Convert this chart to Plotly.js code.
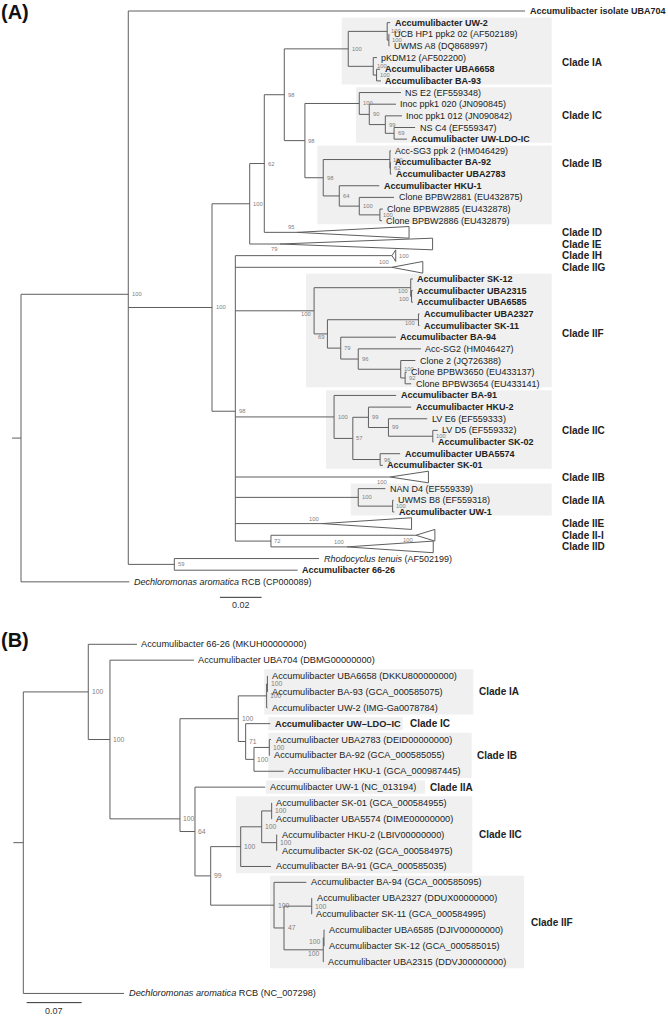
<!DOCTYPE html>
<html><head><meta charset="utf-8">
<script src="https://cdn.plot.ly/plotly-3.0.1.min.js"></script>
<style>html,body{margin:0;padding:0;background:#fff}#chart{width:668px;height:1016px}</style>
</head><body><div id="chart"></div>
<script>
// ================= DATA =================
// Panel A: ppk1-based tree (Newick, branch lengths in substitutions/site, bootstrap as node labels)
const treeA = `(('Accumulibacter isolate UBA704':0.1905,
 (((((('Accumulibacter UW-2':0.0014,('UCB HP1 ppk2 02 (AF502189)':0.0002,'UWMS A8 (DQ868997)':0.0002)100:0.0008)100:0.0187,
      ('pKDM12 (AF502200)':0.0018,('Accumulibacter UBA6658':0.0017,'Accumulibacter BA-93':0.0021)100:0.0016)100:0.0120)100:0.0307,
     (('NS E2 (EF559348)':0.0200,('Inoc ppk1 020 (JN090845)':0.0128,('Inoc ppk1 012 (JN090842)':0.0080,('NS C4 (EF559347)':0.0101,'Accumulibacter UW-LDO-IC':0.0062)69:0.0042)99:0.0077)90:0.0048)100:0.0261,
      (('Acc-SG3 ppk 2 (HM046429)':0.0005,('Accumulibacter BA-92':0.0002,'Accumulibacter UBA2783':0.0005)62:0.0002)100:0.0320,
       ('Accumulibacter HKU-1':0.0192,('Clone BPBW2881 (EU432875)':0.0167,('Clone BPBW2885 (EU432878)':0.0014,'Clone BPBW2886 (EU432879)':0.0010)100:0.0099)100:0.0096)64:0.0077)98:0.0088)98:0.0099)98:0.0096,
    'Clade ID':0.0157)62:0.0070,
   'Clade IE':0.0145)100:0.0181,
  ('Clade IH':0.0752,'Clade IIG':0.0751,
   (('Accumulibacter SK-12':0.0010,('Accumulibacter UBA2315':0.0006,'Accumulibacter UBA6585':0.0006)100:0.0004)100:0.0464,
    (('Accumulibacter UBA2327':0.0005,'Accumulibacter SK-11':0.0005)100:0.0437,
     ('Accumulibacter BA-94':0.0265,('Acc-SG2 (HM046427)':0.0301,('Clone 2 (JQ726388)':0.0070,('Clone BPBW3650 (EU433137)':0.0008,'Clone BPBW3654 (EU433141)':0.0029)92:0.0021)100:0.0204)96:0.0084)79:0.0064)69:0.0064)100:0.0378,
   ('Accumulibacter BA-91':0.0298,(('Accumulibacter HKU-2':0.0205,('LV E6 (EF559333)':0.0186,('LV D5 (EF559332)':0.0024,'Accumulibacter SK-02':0.0003)100:0.0213)99:0.0096)99:0.0075,('Accumulibacter UBA5574':0.0096,'Accumulibacter SK-01':0.0013)96:0.0131)57:0.0090)100:0.0474,
   'Clade IIB':0.0743,
   ('NAN D4 (EF559339)':0.0130,('UWMS B8 (EF559318)':0.0005,'Accumulibacter UW-1':0.0008)100:0.0165)100:0.0590,
   'Clade IIE':0.0416,
   ('Clade II-I':0.0696,'Clade IID':0.0365)72:0.0171)98:0.0112)100:0.0402,
 ('Rhodocyclus tenuis (AF502199)':0.0695,'Accumulibacter 66-26':0.0592)59:0.0221)100:0.0515,
'Dechloromonas aromatica RCB (CP000089)':0.0520)`;

const collapsedNamesA   = ['Clade ID','Clade IE','Clade IH','Clade IIG','Clade IIB','Clade IIE','Clade II-I','Clade IID'];
const collapsedDepthA   = [0.0538, 0.0733, 0.0018, 0.0149, 0.0184, 0.0430, 0.0091, 0.0414];
const collapsedSupportA = ['95','79','100','100','100','100','100','100'];

const cladeNamesA = ['Clade IA','Clade IC','Clade IB','Clade IIF','Clade IIC','Clade IIA'];
const cladeFirstA = ['Accumulibacter UW-2','NS E2 (EF559348)','Acc-SG3 ppk 2 (HM046429)','Accumulibacter SK-12','Accumulibacter BA-91','NAN D4 (EF559339)'];
const cladeLastA  = ['Accumulibacter BA-93','Accumulibacter UW-LDO-IC','Clone BPBW2886 (EU432879)','Clone BPBW3654 (EU433141)','Accumulibacter SK-01','Accumulibacter UW-1'];

const boldA = ['Accumulibacter isolate UBA704','Accumulibacter UW-2','Accumulibacter UBA6658','Accumulibacter BA-93',
  'Accumulibacter UW-LDO-IC','Accumulibacter BA-92','Accumulibacter UBA2783','Accumulibacter HKU-1',
  'Accumulibacter SK-12','Accumulibacter UBA2315','Accumulibacter UBA6585','Accumulibacter UBA2327','Accumulibacter SK-11',
  'Accumulibacter BA-94','Accumulibacter BA-91','Accumulibacter HKU-2','Accumulibacter SK-02','Accumulibacter UBA5574',
  'Accumulibacter SK-01','Accumulibacter UW-1','Accumulibacter 66-26'];
const scaleA = 0.02;

// Panel B: genome-based tree
const treeB = `(('Accumulibacter 66-26 (MKUH00000000)':0.0620,
  ('Accumulibacter UBA704 (DBMG00000000)':0.1069,
   (((('Accumulibacter UBA6658 (DKKU800000000)':0.0003,'Accumulibacter BA-93 (GCA_000585075)':0.0002)100:0.0010,'Accumulibacter UW-2 (IMG-Ga0078784)':0.0010)100:0.0361,
     ('Accumulibacter UW–LDO–IC':0.0313,(('Accumulibacter UBA2783 (DEID00000000)':0.0022,'Accumulibacter BA-92 (GCA_000585055)':0.0005)100:0.0195,'Accumulibacter HKU-1 (GCA_000987445)':0.0378)100:0.0106)71:0.0094)100:0.0742,
    ('Accumulibacter UW-1 (NC_013194)':0.0895,
     (((('Accumulibacter SK-01 (GCA_000584955)':0.0004,'Accumulibacter UBA5574 (DIME00000000)':0.0004)100:0.0127,('Accumulibacter HKU-2 (LBIV00000000)':0.0004,'Accumulibacter SK-02 (GCA_000584975)':0.0004)100:0.0191)100:0.0267,'Accumulibacter BA-91 (GCA_000585035)':0.0386)100:0.0382,
      ('Accumulibacter BA-94 (GCA_000585095)':0.0411,(('Accumulibacter UBA2327 (DDUX00000000)':0.0004,'Accumulibacter SK-11 (GCA_000584995)':0.0003)100:0.0353,(('Accumulibacter UBA6585 (DJIV00000000)':0.0006,'Accumulibacter SK-12 (GCA_000585015)':0.0004)100:0.0009,'Accumulibacter UBA2315 (DDVJ00000000)':0.0009)100:0.0500)47:0.0127)100:0.0806)99:0.0200)64:0.0191)100:0.0891)100:0.0276)100:0.0827,
 'Dechloromonas aromatica RCB (NC_007298)':0.1282)`;

const cladeNamesB = ['Clade IA','Clade IC','Clade IB','Clade IIA','Clade IIC','Clade IIF'];
const cladeFirstB = ['Accumulibacter UBA6658 (DKKU800000000)','Accumulibacter UW–LDO–IC','Accumulibacter UBA2783 (DEID00000000)','Accumulibacter UW-1 (NC_013194)','Accumulibacter SK-01 (GCA_000584955)','Accumulibacter BA-94 (GCA_000585095)'];
const cladeLastB  = ['Accumulibacter UW-2 (IMG-Ga0078784)','Accumulibacter UW–LDO–IC','Accumulibacter HKU-1 (GCA_000987445)','Accumulibacter UW-1 (NC_013194)','Accumulibacter BA-91 (GCA_000585035)','Accumulibacter UBA2315 (DDVJ00000000)'];
const boldB = ['Accumulibacter UW–LDO–IC'];
const scaleB = 0.07;

const italicTaxa = ['Rhodocyclus tenuis','Dechloromonas aromatica'];

// ================= LAYOUT SETTINGS (pixels / styles) =================
const W = 668, H = 1016;
const FONT = 'Liberation Sans, Arial, Helvetica, sans-serif';
const LINE = '#5e5e5e';
const geoA = {rootPx:21, perUnit:2083, row0:11, rowH:11.65, top:0, bottom:616, stub:0.0043,
  leafFont:9, supFont:5.8, cladeFont:10, halfTri:0.5,
  boxPx:[[341.7,551.7],[356,551.7],[317.3,551.7],[306,551.7],[326,551.7],[350.7,551.7]],
  boxPadTop:0.45, boxPadBot:0.3, labelPx:[559.5,559.5,559.5,559.5,559.5,559.5],
  labelShift:[0.95,0,-1.9,0.2,0,0],
  supLeft:['Accumulibacter SK-12','Accumulibacter UBA2315','Accumulibacter UBA2327'],
  leafMid:[],
  scaleX0:0.0955, scaleRow:50.33, scaleTextRow:51.0};
const geoB = {rootPx:23.3, perUnit:785.7, row0:644.3, rowH:15.87, top:616, bottom:1016, stub:0.0127,
  leafFont:9.2, supFont:6.8, cladeFont:10,
  boxPx:[[264.3,473.3],[268.3,402.7],[268.3,471.7],[266,425],[236,472.3],[270,524]],
  boxPadTop:0.42, boxPadBot:0.42, labelPx:[476.7,408.3,475,428.3,477.3,529],
  labelShift:[0,0,0,0,0,0],
  supLeft:['Accumulibacter UBA6585 (DJIV00000000)'],
  leafMid:['Accumulibacter UBA6658 (DKKU800000000)|Accumulibacter UBA2315 (DDVJ00000000)'],
  scaleX0:0.0043, scaleRow:22.58, scaleTextRow:23.1};
const supBelowA = ['Clade IE','Clade IIB','Clade II-I'];
const supRightA = ['Clade IH'];

// ================= HELPERS =================
function parseNewick(str){
  const s = str.replace(/\s*\n\s*/g,'');
  let i = 0;
  const take = re => { let t=''; while(i<s.length && re.test(s[i])) t+=s[i++]; return t; };
  function node(){
    const n = {children:[], name:'', support:'', len:0};
    if (s[i]==='('){
      i++; n.children.push(node());
      while (s[i]===','){ i++; n.children.push(node()); }
      i++; n.support = take(/[0-9.]/);
    } else if (s[i]==="'"){
      i++; while(s[i]!=="'") n.name+=s[i++]; i++;
    }
    if (s[i]===':'){ i++; n.len = parseFloat(take(/[0-9.eE+-]/)); }
    return n;
  }
  return node();
}
function placeTree(root, gaps, leafMid){
  let row = 0; const leaves=[], inner=[];
  (function rec(n,x){
    n.x = x;
    if(!n.children.length){ row += (gaps[n.name]||0); n.y = row++; n.first=n; n.last=n; leaves.push(n); }
    else {
      n.children.forEach(c=>rec(c, x + c.len));
      n.first = n.children[0].first; n.last = n.children[n.children.length-1].last;
      n.y = n.children.reduce((a,c)=>a+c.y,0)/n.children.length;
      if (leafMid.includes(n.first.name+'|'+n.last.name)) n.y = (n.first.y + n.last.y)/2;
      inner.push(n);
    }
  })(root,0);
  return {root, leaves, inner};
}
function fmt(name, boldList){
  let t = name;
  italicTaxa.forEach(it => { t = t.replace(it, '<i>'+it+'</i>'); });
  return boldList.includes(name) ? '<b>'+t+'</b>' : t;
}

const traces = [], annotations = [], shapes = [];

function buildPanel(cfg){
  const g = cfg.geo, xa = cfg.xa, ya = cfg.ya;
  const t = placeTree(parseNewick(cfg.newick), cfg.gaps || {}, g.leafMid);
  const X=[], Y=[];
  const seg=(x0,y0,x1,y1)=>{X.push(x0,x1,null);Y.push(y0,y1,null);};
  seg(-g.stub, t.root.y, 0, t.root.y);
  t.inner.forEach(n=>{
    const f=n.children[0], l=n.children[n.children.length-1];
    seg(n.x,f.y,n.x,l.y);
    n.children.forEach(c=>seg(n.x,c.y,c.x,c.y));
    if(n.support){
      const left = g.supLeft.includes(n.first.name);
      annotations.push({xref:xa, yref:ya, x:n.x, y:n.y + (left?0.25:0), xanchor:left?'right':'left', yanchor:'middle', xshift:left?-1:1.5,
        text:n.support, showarrow:false, font:{size:g.supFont, color:'#808080', family:FONT}});
    }
  });
  const byName = {}; t.leaves.forEach(l=>byName[l.name]=l);
  const collNames = cfg.collapsedNames || [];
  t.leaves.forEach(l=>{
    const k = collNames.indexOf(l.name);
    if(k>=0){
      const d = cfg.collapsedDepth[k], h = g.halfTri;
      X.push(l.x, l.x+d, l.x+d, l.x, null); Y.push(l.y, l.y-h, l.y+h, l.y, null);
      const sup = cfg.collapsedSupport[k];
      let a = {xref:xa, yref:ya, x:l.x, y:l.y-0.42, xanchor:'right', yanchor:'middle', xshift:-1,
        text:sup, showarrow:false, font:{size:g.supFont, color:'#808080', family:FONT}};
      if (supBelowA.includes(l.name)) a.y = l.y+0.42;
      if (supRightA.includes(l.name)) { a.x = l.x+d; a.y = l.y; a.xanchor='left'; a.xshift=1; }
      annotations.push(a);
      annotations.push({xref:'paper', yref:ya, x:g.labelPx[0]/W, y:l.y, xanchor:'left', yanchor:'middle',
        text:'<b>'+l.name+'</b>', showarrow:false, font:{size:g.cladeFont, color:'#222', family:FONT}});
    } else {
      annotations.push({xref:xa, yref:ya, x:l.x, y:l.y, xanchor:'left', yanchor:'middle', xshift:2.5,
        text:fmt(l.name, cfg.bold), showarrow:false, font:{size:g.leafFont, color:'#222', family:FONT}});
    }
  });
  traces.push({type:'scatter', mode:'lines', x:X, y:Y, xaxis:xa, yaxis:ya, hoverinfo:'skip',
    line:{color:LINE, width:1}, connectgaps:false, showlegend:false});
  cfg.cladeNames.forEach((nm,k)=>{
    const a = byName[cfg.cladeFirst[k]].y, b = byName[cfg.cladeLast[k]].y;
    shapes.push({type:'rect', xref:'paper', yref:ya, x0:g.boxPx[k][0]/W, x1:g.boxPx[k][1]/W,
      y0:a-g.boxPadTop, y1:b+g.boxPadBot, fillcolor:'#eff0ef', line:{width:0}, layer:'below'});
    annotations.push({xref:'paper', yref:ya, x:g.labelPx[k]/W, y:(a+b)/2 + g.labelShift[k], xanchor:'left', yanchor:'middle',
      text:'<b>'+nm+'</b>', showarrow:false, font:{size:g.cladeFont, color:'#222', family:FONT}});
  });
  traces.push({type:'scatter', mode:'lines', x:[g.scaleX0, g.scaleX0+cfg.scale], y:[g.scaleRow,g.scaleRow],
    xaxis:xa, yaxis:ya, hoverinfo:'skip', line:{color:'#333', width:1}, showlegend:false});
  annotations.push({xref:xa, yref:ya, x:g.scaleX0+cfg.scale/2, y:g.scaleTextRow, xanchor:'center', yanchor:'middle',
    text:String(cfg.scale), showarrow:false, font:{size:9, color:'#333', family:FONT}});
}

buildPanel({newick:treeA, geo:geoA, xa:'x', ya:'y', collapsedNames:collapsedNamesA, collapsedDepth:collapsedDepthA,
  collapsedSupport:collapsedSupportA, cladeNames:cladeNamesA, cladeFirst:cladeFirstA, cladeLast:cladeLastA, bold:boldA, scale:scaleA});
buildPanel({newick:treeB, geo:geoB, xa:'x2', ya:'y2', gaps:{'Dechloromonas aromatica RCB (NC_007298)':1},
  cladeNames:cladeNamesB, cladeFirst:cladeFirstB, cladeLast:cladeLastB, bold:boldB, scale:scaleB});

annotations.push({xref:'paper', yref:'paper', x:0, y:1-12.5/H, xanchor:'left', yanchor:'middle', xshift:-1,
  text:'<b>(A)</b>', showarrow:false, font:{size:20, color:'#111', family:FONT}});
annotations.push({xref:'paper', yref:'paper', x:0, y:1-639.5/H, xanchor:'left', yanchor:'middle', xshift:-1,
  text:'<b>(B)</b>', showarrow:false, font:{size:20, color:'#111', family:FONT}});

function xr(g){ return [-g.rootPx/g.perUnit, (W-g.rootPx)/g.perUnit]; }
function yr(g){ return [(g.bottom-g.row0)/g.rowH, (g.top-g.row0)/g.rowH]; }
const ax = {visible:false, fixedrange:true, showgrid:false, zeroline:false};
const layout = {
  width:W, height:H, margin:{l:0,r:0,t:0,b:0}, paper_bgcolor:'#fff', plot_bgcolor:'rgba(0,0,0,0)',
  font:{family:FONT, color:'#222'}, showlegend:false, hovermode:false,
  xaxis:Object.assign({}, ax, {domain:[0,1], range:xr(geoA), anchor:'y'}),
  yaxis:Object.assign({}, ax, {domain:[1-geoA.bottom/H, 1], range:yr(geoA), anchor:'x'}),
  xaxis2:Object.assign({}, ax, {domain:[0,1], range:xr(geoB), anchor:'y2'}),
  yaxis2:Object.assign({}, ax, {domain:[0, 1-geoB.top/H], range:yr(geoB), anchor:'x2'}),
  annotations, shapes
};
Plotly.newPlot('chart', traces, layout, {staticPlot:true, displayModeBar:false});
</script></body></html>
